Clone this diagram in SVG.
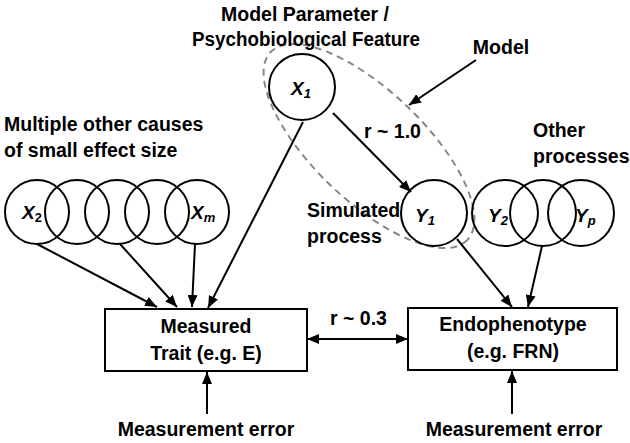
<svg xmlns="http://www.w3.org/2000/svg" width="630" height="443" viewBox="0 0 630 443">
<defs>
<marker id="ah" viewBox="0 0 12 10" refX="12" refY="5" markerWidth="12" markerHeight="10" markerUnits="userSpaceOnUse" orient="auto-start-reverse">
<path d="M0,0 L12,5 L0,10 Z" fill="#000"/>
</marker>
</defs>
<style>
text{font-family:"Liberation Sans",Arial,sans-serif;font-weight:bold;font-size:19.5px;fill:#000}
.v{font-style:italic;font-size:19px}
.s{font-size:13px}
.c{fill:none;stroke:#000;stroke-width:2}
.b{fill:#fff;stroke:#000;stroke-width:2}
.e{stroke:#000;stroke-width:2;fill:none;marker-end:url(#ah)}
</style>
<rect width="630" height="443" fill="#fff"/>
<ellipse cx="369" cy="146" rx="136" ry="55" transform="rotate(43.7 369 146)" fill="none" stroke="#888" stroke-width="2" stroke-dasharray="7,5"/>
<g id="labels">
<text x="305" y="21" text-anchor="middle">Model Parameter /</text>
<text x="306" y="46" text-anchor="middle" textLength="228" lengthAdjust="spacingAndGlyphs">Psychobiological Feature</text>
<text x="501" y="54" text-anchor="middle">Model</text>
<text x="4" y="131">Multiple other causes</text>
<text x="4" y="157">of small effect size</text>
<text x="364" y="138">r ~ 1.0</text>
<text x="533" y="137">Other</text>
<text x="533" y="163">processes</text>
<text x="307" y="217">Simulated</text>
<text x="307" y="243">process</text>
<text x="330" y="325">r ~ 0.3</text>
<text x="206" y="436" text-anchor="middle">Measurement error</text>
<text x="514" y="436" text-anchor="middle">Measurement error</text>
</g>
<g id="X1"><circle class="c" cx="302" cy="87" r="33"/><text class="v" x="291" y="95">X<tspan class="s" dy="3">1</tspan></text></g>
<g id="Xchain">
<circle class="c" cx="37" cy="212" r="32"/>
<circle class="c" cx="77" cy="212" r="32"/>
<circle class="c" cx="117" cy="212" r="32"/>
<circle class="c" cx="157" cy="212" r="32"/>
<circle class="c" cx="197" cy="212" r="32"/>
<text class="v" x="22" y="219">X<tspan class="s" dy="3" font-style="normal">2</tspan></text>
<text class="v" x="191" y="219">X<tspan class="s" dy="3">m</tspan></text>
</g>
<g id="Y1"><circle class="c" cx="434" cy="213" r="33"/><text class="v" x="415" y="222">Y<tspan class="s" dy="3">1</tspan></text></g>
<g id="Ychain">
<circle class="c" cx="505" cy="213" r="33"/>
<circle class="c" cx="543" cy="213" r="33"/>
<circle class="c" cx="581" cy="213" r="33"/>
<text class="v" x="488" y="222">Y<tspan class="s" dy="3">2</tspan></text>
<text class="v" x="575" y="222">Y<tspan class="s" dy="3">p</tspan></text>
</g>
<g id="Measured"><rect class="b" x="105" y="309" width="202" height="62"/>
<text x="206" y="333" text-anchor="middle">Measured</text>
<text x="206" y="360" text-anchor="middle">Trait (e.g. E)</text></g>
<g id="Endo"><rect class="b" x="408" y="308" width="209" height="62"/>
<text x="513" y="331" text-anchor="middle">Endophenotype</text>
<text x="513" y="358" text-anchor="middle">(e.g. FRN)</text></g>
<g id="connectors">
<line class="e" x1="303" y1="122" x2="208" y2="308"/>
<line class="e" x1="37" y1="244" x2="157" y2="307"/>
<line class="e" x1="120" y1="244" x2="177" y2="307"/>
<line class="e" x1="195" y1="244" x2="192" y2="307"/>
<line class="e" x1="333" y1="113" x2="411" y2="192"/>
<line class="e" x1="476" y1="60" x2="409" y2="105"/>
<line class="e" x1="457" y1="239" x2="512" y2="307"/>
<line class="e" x1="542" y1="246" x2="528" y2="307"/>
<line class="e" x1="307" y1="339" x2="408" y2="339" marker-start="url(#ah)"/>
<line class="e" x1="207" y1="414" x2="207" y2="372"/>
<line class="e" x1="512" y1="414" x2="512" y2="371"/>
</g>
</svg>
